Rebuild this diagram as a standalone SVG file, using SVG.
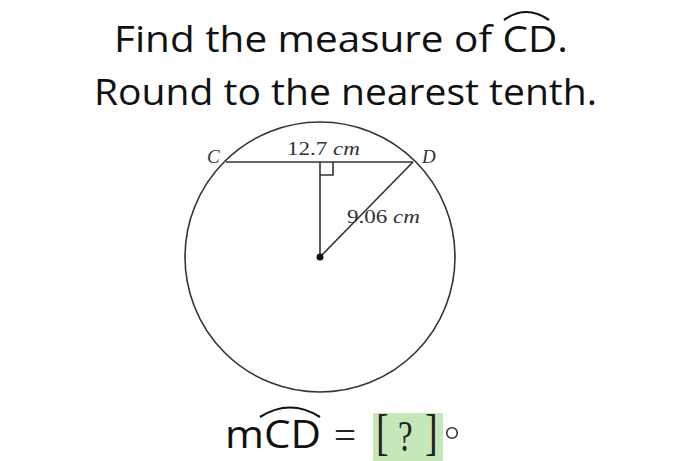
<svg xmlns="http://www.w3.org/2000/svg" width="700" height="461" viewBox="0 0 700 461">
<style>
.t{font-family:"Open Sans","Liberation Sans",sans-serif;fill:#111;}
.s{font-family:"Liberation Serif","Times New Roman",serif;fill:#333;font-size:19px;}
.i{font-style:italic;}
.ln{stroke:#333;stroke-width:1.6;fill:none;}
.arc{stroke:#111;stroke-width:2.2;fill:none;}
.b{font-family:"Liberation Serif","Times New Roman",serif;fill:#222;}
</style>
<rect width="700" height="461" fill="#fff"/>
<g id="title">
<text class="t" x="114" y="52" font-size="37" textLength="454" lengthAdjust="spacingAndGlyphs">Find the measure of CD.</text>
<path class="arc" d="M504,20 Q526,4 549,20"/>
<text class="t" x="94" y="105" font-size="37" textLength="503" lengthAdjust="spacingAndGlyphs">Round to the nearest tenth.</text>
</g>
<g id="circle">
<circle class="ln" cx="320" cy="257" r="135" stroke="#555"/>
</g>
<g id="connectors">
<line class="ln" x1="226" y1="162" x2="413" y2="162"/>
<line class="ln" x1="320" y1="162" x2="320" y2="257"/>
<line class="ln" x1="320" y1="257" x2="413" y2="162"/>
<path class="ln" d="M320,175 H333 V162" stroke-width="1.4"/>
<circle cx="320" cy="257" r="3.5" fill="#111"/>
</g>
<g id="labels">
<text class="s i" x="207" y="163">C</text>
<text class="s i" x="422" y="163">D</text>
<text class="s" x="287" y="155" textLength="73" lengthAdjust="spacingAndGlyphs">12.7 <tspan class="i">cm</tspan></text>
<text class="s" x="347" y="223" textLength="73" lengthAdjust="spacingAndGlyphs">9.06 <tspan class="i">cm</tspan></text>
</g>
<g id="answer">
<rect x="373" y="413" width="70" height="48" fill="#c6e8b8"/>
<text class="t" x="225" y="448" font-size="38" textLength="96" lengthAdjust="spacingAndGlyphs">mCD</text>
<path class="arc" d="M260,417 Q290,398 320,417"/>
<text class="b" x="334" y="448" font-size="38" textLength="22" lengthAdjust="spacingAndGlyphs">=</text>
<text class="b" font-size="38" transform="translate(376,449) scale(1,1.35)">[</text>
<text class="b" font-size="40" transform="translate(398,451) scale(0.82,1.1)">?</text>
<text class="b" font-size="38" transform="translate(425,449) scale(1,1.35)">]</text>
<circle cx="452" cy="433" r="5.3" fill="none" stroke="#333" stroke-width="1.6"/>
</g>
</svg>
